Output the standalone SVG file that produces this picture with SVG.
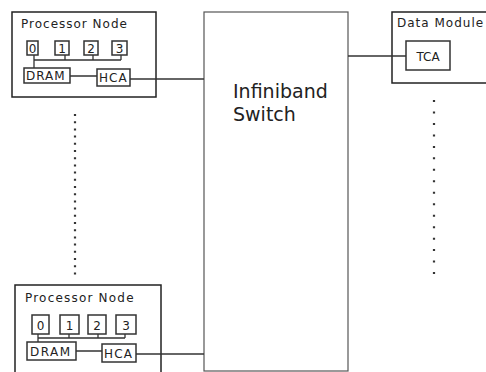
<svg xmlns="http://www.w3.org/2000/svg" width="486" height="372" viewBox="0 0 486 372">
<style>
.box{fill:none;stroke:#222;stroke-width:1.5}
.core{fill:#fff;stroke:#333;stroke-width:1.5}
.sw{fill:#fff;stroke:#555;stroke-width:1.2}
.ln{fill:none;stroke:#333;stroke-width:1.3}
.t{font-family:"DejaVu Sans",sans-serif;font-size:12px;fill:#222;letter-spacing:1px}
.c{font-family:"DejaVu Sans",sans-serif;font-size:12px;fill:#222;text-anchor:middle}
.big{font-family:"DejaVu Sans",sans-serif;font-size:19px;fill:#222}
.dots{stroke:#333;stroke-width:2.2;fill:none}
</style>
<rect width="486" height="372" fill="#fff"/>
<g id="switch">
<rect class="sw" x="204" y="12" width="144" height="359"/>
<text class="big" x="233" y="98">Infiniband</text>
<text class="big" x="233" y="121">Switch</text>
</g>
<g id="processor-node-top">
<rect class="box" x="12" y="12" width="144" height="85"/>
<text class="t" x="21" y="28">Processor Node</text>
<rect class="core" x="27" y="41" width="11" height="14"/>
<rect class="core" x="55" y="41" width="14" height="14"/>
<rect class="core" x="84" y="41" width="14" height="14"/>
<rect class="core" x="112" y="41" width="15" height="14"/>
<text class="c" x="32.5" y="53">0</text>
<text class="c" x="62" y="53">1</text>
<text class="c" x="91" y="53">2</text>
<text class="c" x="119.5" y="53">3</text>
<path class="ln" d="M34 55V68M34 60H121M65 55V60M93 55V60M121 55V60M70 76H97"/>
<rect class="core" x="24" y="68" width="46" height="15"/>
<text class="t" x="26" y="80">DRAM</text>
<rect class="core" x="97" y="69" width="33" height="17"/>
<text class="t" x="99" y="82">HCA</text>
</g>
<g id="processor-node-bottom">
<rect class="box" x="15" y="285" width="146" height="100"/>
<text class="t" x="25" y="302" style="letter-spacing:1.2px">Processor Node</text>
<rect class="core" x="32" y="315" width="17" height="19"/>
<rect class="core" x="60" y="315" width="19" height="19"/>
<rect class="core" x="88" y="315" width="18" height="19"/>
<rect class="core" x="116" y="315" width="20" height="19"/>
<text class="c" x="40.5" y="330">0</text>
<text class="c" x="69.5" y="330">1</text>
<text class="c" x="97" y="330">2</text>
<text class="c" x="126" y="330">3</text>
<path class="ln" d="M38 334V342M38 338H125M69 334V338M98 334V338M125 334V338M76 351H102"/>
<rect class="core" x="27" y="342" width="49" height="18"/>
<text class="t" x="30" y="356" style="letter-spacing:1.5px">DRAM</text>
<rect class="core" x="102" y="344" width="34" height="18"/>
<text class="t" x="104" y="358" style="letter-spacing:1.2px">HCA</text>
</g>
<g id="data-module">
<rect class="box" x="392" y="12" width="100" height="71"/>
<text class="t" x="397" y="27">Data Module</text>
<rect class="core" x="406" y="41" width="44" height="29"/>
<text class="c" x="428" y="61">TCA</text>
</g>
<g id="connectors">
<path class="ln" d="M130 79H204"/>
<path class="ln" d="M136 354H204"/>
<path class="ln" d="M348 56H406"/>
</g>
<g id="ellipses">
<line class="dots" x1="75" y1="114" x2="75" y2="275" stroke-dasharray="2 5.2"/>
<line class="dots" x1="434" y1="100" x2="434" y2="275" stroke-dasharray="2 9.47"/>
</g>
</svg>
